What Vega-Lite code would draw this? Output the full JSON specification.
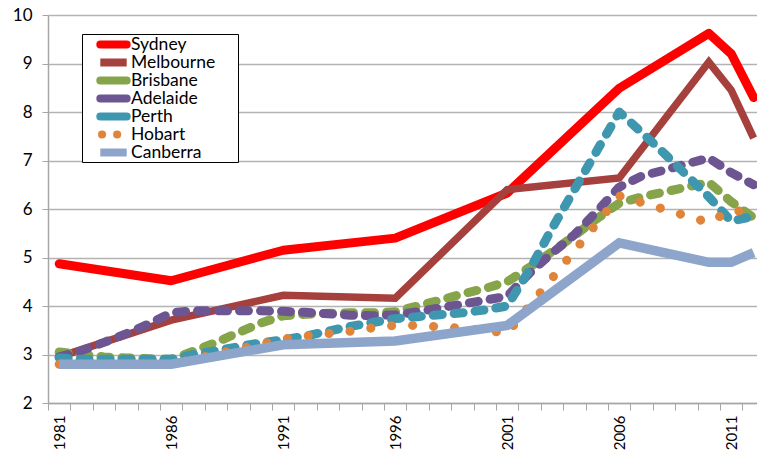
{
  "$schema": "https://vega.github.io/schema/vega-lite/v6.json",
  "width": 709,
  "height": 388,
  "autosize": {"type": "none"},
  "padding": {"left": 48, "top": 15, "right": 0, "bottom": 48},
  "background": "white",
  "config": {"view": {"stroke": null}, "font": "Lato"},
  "data": {
    "values": [
      {"city": "Sydney", "year": 1981, "value": 4.87},
      {"city": "Sydney", "year": 1986, "value": 4.52},
      {"city": "Sydney", "year": 1991, "value": 5.15},
      {"city": "Sydney", "year": 1996, "value": 5.4},
      {"city": "Sydney", "year": 2001, "value": 6.33},
      {"city": "Sydney", "year": 2006, "value": 8.49},
      {"city": "Sydney", "year": 2010, "value": 9.62},
      {"city": "Sydney", "year": 2011, "value": 9.2},
      {"city": "Sydney", "year": 2012, "value": 8.3},

      {"city": "Melbourne", "year": 1981, "value": 2.95},
      {"city": "Melbourne", "year": 1986, "value": 3.71},
      {"city": "Melbourne", "year": 1991, "value": 4.22},
      {"city": "Melbourne", "year": 1996, "value": 4.16},
      {"city": "Melbourne", "year": 2001, "value": 6.4},
      {"city": "Melbourne", "year": 2006, "value": 6.64},
      {"city": "Melbourne", "year": 2010, "value": 9.03},
      {"city": "Melbourne", "year": 2011, "value": 8.45},
      {"city": "Melbourne", "year": 2012, "value": 7.46},

      {"city": "Brisbane", "year": 1981, "value": 3.05},
      {"city": "Brisbane", "year": 1982, "value": 3.0},
      {"city": "Brisbane", "year": 1983, "value": 2.95},
      {"city": "Brisbane", "year": 1984, "value": 2.93},
      {"city": "Brisbane", "year": 1985, "value": 2.91},
      {"city": "Brisbane", "year": 1986, "value": 2.9},
      {"city": "Brisbane", "year": 1987, "value": 3.07},
      {"city": "Brisbane", "year": 1988, "value": 3.25},
      {"city": "Brisbane", "year": 1989, "value": 3.45},
      {"city": "Brisbane", "year": 1990, "value": 3.65},
      {"city": "Brisbane", "year": 1991, "value": 3.8},
      {"city": "Brisbane", "year": 1992, "value": 3.83},
      {"city": "Brisbane", "year": 1993, "value": 3.85},
      {"city": "Brisbane", "year": 1994, "value": 3.86},
      {"city": "Brisbane", "year": 1995, "value": 3.86},
      {"city": "Brisbane", "year": 1996, "value": 3.88},
      {"city": "Brisbane", "year": 1997, "value": 4.0},
      {"city": "Brisbane", "year": 1998, "value": 4.12},
      {"city": "Brisbane", "year": 1999, "value": 4.25},
      {"city": "Brisbane", "year": 2000, "value": 4.36},
      {"city": "Brisbane", "year": 2001, "value": 4.5},
      {"city": "Brisbane", "year": 2002, "value": 4.8},
      {"city": "Brisbane", "year": 2003, "value": 5.12},
      {"city": "Brisbane", "year": 2004, "value": 5.45},
      {"city": "Brisbane", "year": 2005, "value": 5.8},
      {"city": "Brisbane", "year": 2006, "value": 6.12},
      {"city": "Brisbane", "year": 2007, "value": 6.25},
      {"city": "Brisbane", "year": 2008, "value": 6.35},
      {"city": "Brisbane", "year": 2009, "value": 6.45},
      {"city": "Brisbane", "year": 2010, "value": 6.55},
      {"city": "Brisbane", "year": 2011, "value": 6.15},
      {"city": "Brisbane", "year": 2012, "value": 5.82},

      {"city": "Adelaide", "year": 1981, "value": 2.95},
      {"city": "Adelaide", "year": 1982, "value": 3.08},
      {"city": "Adelaide", "year": 1983, "value": 3.25},
      {"city": "Adelaide", "year": 1984, "value": 3.43},
      {"city": "Adelaide", "year": 1985, "value": 3.63},
      {"city": "Adelaide", "year": 1986, "value": 3.86},
      {"city": "Adelaide", "year": 1987, "value": 3.9},
      {"city": "Adelaide", "year": 1988, "value": 3.9},
      {"city": "Adelaide", "year": 1989, "value": 3.9},
      {"city": "Adelaide", "year": 1990, "value": 3.9},
      {"city": "Adelaide", "year": 1991, "value": 3.89},
      {"city": "Adelaide", "year": 1992, "value": 3.87},
      {"city": "Adelaide", "year": 1993, "value": 3.84},
      {"city": "Adelaide", "year": 1994, "value": 3.81},
      {"city": "Adelaide", "year": 1995, "value": 3.8},
      {"city": "Adelaide", "year": 1996, "value": 3.82},
      {"city": "Adelaide", "year": 1997, "value": 3.88},
      {"city": "Adelaide", "year": 1998, "value": 3.96},
      {"city": "Adelaide", "year": 1999, "value": 4.04},
      {"city": "Adelaide", "year": 2000, "value": 4.12},
      {"city": "Adelaide", "year": 2001, "value": 4.2},
      {"city": "Adelaide", "year": 2002, "value": 4.68},
      {"city": "Adelaide", "year": 2003, "value": 5.09},
      {"city": "Adelaide", "year": 2004, "value": 5.47},
      {"city": "Adelaide", "year": 2005, "value": 5.95},
      {"city": "Adelaide", "year": 2006, "value": 6.45},
      {"city": "Adelaide", "year": 2007, "value": 6.68},
      {"city": "Adelaide", "year": 2008, "value": 6.8},
      {"city": "Adelaide", "year": 2009, "value": 6.93},
      {"city": "Adelaide", "year": 2010, "value": 7.05},
      {"city": "Adelaide", "year": 2011, "value": 6.75},
      {"city": "Adelaide", "year": 2012, "value": 6.5},

      {"city": "Perth", "year": 1981, "value": 2.93},
      {"city": "Perth", "year": 1982, "value": 2.9},
      {"city": "Perth", "year": 1983, "value": 2.9},
      {"city": "Perth", "year": 1984, "value": 2.9},
      {"city": "Perth", "year": 1985, "value": 2.9},
      {"city": "Perth", "year": 1986, "value": 2.9},
      {"city": "Perth", "year": 1987, "value": 3.0},
      {"city": "Perth", "year": 1988, "value": 3.08},
      {"city": "Perth", "year": 1989, "value": 3.16},
      {"city": "Perth", "year": 1990, "value": 3.24},
      {"city": "Perth", "year": 1991, "value": 3.3},
      {"city": "Perth", "year": 1992, "value": 3.38},
      {"city": "Perth", "year": 1993, "value": 3.48},
      {"city": "Perth", "year": 1994, "value": 3.58},
      {"city": "Perth", "year": 1995, "value": 3.66},
      {"city": "Perth", "year": 1996, "value": 3.74},
      {"city": "Perth", "year": 1997, "value": 3.78},
      {"city": "Perth", "year": 1998, "value": 3.82},
      {"city": "Perth", "year": 1999, "value": 3.86},
      {"city": "Perth", "year": 2000, "value": 3.92},
      {"city": "Perth", "year": 2001, "value": 4.0},
      {"city": "Perth", "year": 2002, "value": 4.75},
      {"city": "Perth", "year": 2003, "value": 5.6},
      {"city": "Perth", "year": 2004, "value": 6.4},
      {"city": "Perth", "year": 2005, "value": 7.2},
      {"city": "Perth", "year": 2006, "value": 8.0},
      {"city": "Perth", "year": 2007, "value": 7.58},
      {"city": "Perth", "year": 2008, "value": 7.15},
      {"city": "Perth", "year": 2009, "value": 6.7},
      {"city": "Perth", "year": 2010, "value": 6.25},
      {"city": "Perth", "year": 2011, "value": 5.75},
      {"city": "Perth", "year": 2012, "value": 5.85},

      {"city": "Hobart", "year": 1981, "value": 2.8},
      {"city": "Hobart", "year": 1986, "value": 2.8},
      {"city": "Hobart", "year": 1991, "value": 3.32},
      {"city": "Hobart", "year": 1992, "value": 3.38},
      {"city": "Hobart", "year": 1993, "value": 3.43},
      {"city": "Hobart", "year": 1994, "value": 3.48},
      {"city": "Hobart", "year": 1995, "value": 3.55},
      {"city": "Hobart", "year": 1996, "value": 3.6},
      {"city": "Hobart", "year": 1997, "value": 3.6},
      {"city": "Hobart", "year": 1998, "value": 3.57},
      {"city": "Hobart", "year": 1999, "value": 3.54},
      {"city": "Hobart", "year": 2000, "value": 3.5},
      {"city": "Hobart", "year": 2001, "value": 3.44},
      {"city": "Hobart", "year": 2006, "value": 6.27},
      {"city": "Hobart", "year": 2010, "value": 5.72},
      {"city": "Hobart", "year": 2011, "value": 5.98},
      {"city": "Hobart", "year": 2012, "value": 5.92},

      {"city": "Canberra", "year": 1981, "value": 2.8},
      {"city": "Canberra", "year": 1986, "value": 2.8},
      {"city": "Canberra", "year": 1991, "value": 3.2},
      {"city": "Canberra", "year": 1996, "value": 3.28},
      {"city": "Canberra", "year": 2001, "value": 3.6},
      {"city": "Canberra", "year": 2006, "value": 5.3},
      {"city": "Canberra", "year": 2010, "value": 4.9},
      {"city": "Canberra", "year": 2011, "value": 4.9},
      {"city": "Canberra", "year": 2012, "value": 5.1}
    ]
  },
  "encoding": {
    "x": {
      "field": "year",
      "type": "quantitative",
      "scale": {"domain": [1980.5, 2012.15], "nice": false, "zero": false},
      "axis": {
        "title": null,
        "values": [1981, 1982, 1983, 1984, 1985, 1986, 1987, 1988, 1989, 1990, 1991, 1992, 1993, 1994, 1995, 1996, 1997, 1998, 1999, 2000, 2001, 2002, 2003, 2004, 2005, 2006, 2007, 2008, 2009, 2010, 2011, 2012],
        "format": "d",
        "labelExpr": "(datum.value - 1981) % 5 === 0 ? datum.label : ''",
        "grid": false,
        "tickOffset": -11.2,
        "labelOffset": 11.2,
        "labelAngle": -90,
        "labelAlign": "right",
        "labelBaseline": "middle",
        "tickSize": 7,
        "tickColor": "#a6a6a6",
        "tickWidth": 1,
        "domainColor": "#a6a6a6",
        "domainWidth": 1.5,
        "labelFontSize": 15,
        "labelColor": "black",
        "labelPadding": 5,
        "labelFlush": false,
        "labelOverlap": false,
        "labelBound": false
      }
    },
    "y": {
      "field": "value",
      "type": "quantitative",
      "scale": {"domain": [2, 10], "nice": false, "zero": false},
      "axis": {
        "title": null,
        "values": [2, 3, 4, 5, 6, 7, 8, 9, 10],
        "grid": true,
        "gridColor": "#b3b3b3",
        "gridWidth": 1.5,
        "tickSize": 6,
        "tickColor": "#a6a6a6",
        "domainColor": "#a6a6a6",
        "domainWidth": 1.5,
        "labelFontSize": 17,
        "labelPadding": 10,
        "labelColor": "black"
      }
    },
    "color": {
      "field": "city",
      "type": "nominal",
      "scale": {
        "domain": ["Sydney", "Melbourne", "Brisbane", "Adelaide", "Perth", "Hobart", "Canberra"],
        "range": ["#ff0000", "#a5403d", "#86a44a", "#6d5592", "#3e97af", "#e0843a", "#8ea5cb"]
      },
      "legend": {
        "title": null,
        "orient": "none",
        "legendX": 34,
        "legendY": 19,
        "direction": "vertical",
        "strokeColor": "black",
        "fillColor": "white",
        "padding": 1,
        "symbolType": "M-2.4,0H2.4",
        "symbolSize": 121,
        "symbolStrokeWidth": 8,
        "symbolOffset": 21,
        "labelOffset": 8,
        "rowPadding": -2.6,
        "labelFontSize": 17.5,
        "labelColor": "black",
        "labelLimit": 300,
        "labelExpr": "datum.label + '\u2002\u2800'",
        "encode": {
          "symbols": {
            "update": {
              "strokeDash": {"signal": "datum.value === 'Hobart' ? [0.1, 15] : [1, 0]"},
              "strokeDashOffset": {"signal": "datum.value === 'Hobart' ? -1.7 : 0"},
              "strokeCap": {"signal": "datum.value === 'Melbourne' || datum.value === 'Canberra' ? 'butt' : 'round'"},
              "strokeJoin": {"value": "round"},
              "opacity": {"value": 1}
            }
          }
        }
      }
    }
  },
  "layer": [
    {"transform": [{"filter": "datum.city === 'Sydney'"}], "mark": {"type": "line", "strokeWidth": 9, "strokeCap": "round", "strokeJoin": "round"}, "encoding": {}},
    {"transform": [{"filter": "datum.city === 'Melbourne'"}], "mark": {"type": "line", "strokeWidth": 7.5, "strokeCap": "butt", "strokeJoin": "miter"}, "encoding": {}},
    {"transform": [{"filter": "datum.city === 'Brisbane'"}], "mark": {"type": "line", "strokeWidth": 9, "strokeDash": [9, 12], "strokeCap": "round", "strokeJoin": "round"}, "encoding": {}},
    {"transform": [{"filter": "datum.city === 'Adelaide'"}], "mark": {"type": "line", "strokeWidth": 9, "strokeDash": [9, 12], "strokeCap": "round", "strokeJoin": "round"}, "encoding": {}},
    {"transform": [{"filter": "datum.city === 'Perth'"}], "mark": {"type": "line", "strokeWidth": 9, "strokeDash": [9, 12], "strokeCap": "round", "strokeJoin": "round"}, "encoding": {}},
    {"transform": [{"filter": "datum.city === 'Hobart'"}], "mark": {"type": "line", "strokeWidth": 9, "strokeDash": [0.1, 20.9], "strokeCap": "round", "strokeJoin": "round"}, "encoding": {}},
    {"transform": [{"filter": "datum.city === 'Canberra'"}], "mark": {"type": "line", "strokeWidth": 9.5, "strokeCap": "butt", "strokeJoin": "miter"}, "encoding": {}}
  ]
}
